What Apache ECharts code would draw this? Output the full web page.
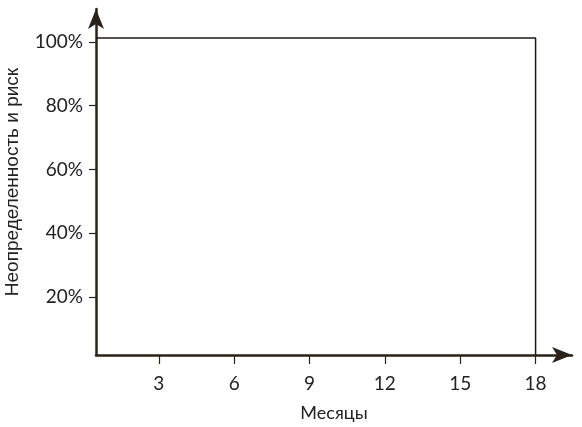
<!DOCTYPE html>
<html>
<head>
<meta charset="utf-8">
<script src="https://cdn.jsdelivr.net/npm/echarts@6/dist/echarts.min.js"></script>
<style>
  html, body { margin: 0; padding: 0; background: #fff; }
  #main { width: 582px; height: 427px; }
</style>
</head>
<body>
<div id="main"></div>
<script>
// деления осей
const monthTicks = [3, 6, 9, 12, 15, 18];
const riskTicks = [20, 40, 60, 80, 100];
// рамка: верхняя граница и правая граница на 18 месяце
const frameMonths = [0.5, 18, 18];
const frameRisk = [101.2, 101.2, 1.8];

const axisColor = '#2a2219';
const textColor = '#222';
const labelFont = 'Lato, "Open Sans", sans-serif';

var chart = echarts.init(document.getElementById('main'));

chart.setOption({
  animation: false,
  grid: { left: 96, right: 10, top: 9, bottom: 72, outerBoundsMode: 'none', containLabel: false },
  xAxis: {
    type: 'value',
    min: 0.5,
    max: 19.45,
    name: 'Месяцы',
    nameLocation: 'middle',
    nameGap: 49,
    nameTextStyle: { color: textColor, fontSize: 18, fontFamily: labelFont },
    axisLine: {
      show: true,
      symbol: ['none', 'arrow'],
      symbolSize: [12, 20],
      lineStyle: { color: axisColor, width: 2.5 }
    },
    axisTick: {
      show: true,
      inside: false,
      length: 9,
      customValues: monthTicks,
      lineStyle: { color: axisColor, width: 1.2 }
    },
    axisLabel: {
      customValues: monthTicks,
      margin: 19,
      color: textColor,
      fontSize: 19,
      fontFamily: labelFont
    },
    splitLine: { show: false }
  },
  yAxis: {
    type: 'value',
    min: 1.8,
    max: 110.3,
    name: 'Неопределенность и риск',
    nameLocation: 'middle',
    nameGap: 74,
    nameRotate: 90,
    nameTextStyle: { color: textColor, fontSize: 19, fontFamily: '"Liberation Sans", Arial, sans-serif' },
    axisLine: {
      show: true,
      symbol: ['none', 'arrow'],
      symbolSize: [12, 20],
      lineStyle: { color: axisColor, width: 2.5 }
    },
    axisTick: {
      show: true,
      inside: false,
      length: 7,
      customValues: riskTicks,
      lineStyle: { color: axisColor, width: 1.2 }
    },
    axisLabel: {
      customValues: riskTicks,
      margin: 13,
      color: textColor,
      fontSize: 19,
      fontFamily: labelFont,
      formatter: '{value}%'
    },
    splitLine: { show: false }
  },
  series: [{
    type: 'line',
    data: frameMonths.map((m, i) => [m, frameRisk[i]]),
    symbol: 'none',
    silent: true,
    clip: false,
    lineStyle: { color: '#1c1814', width: 1.5 }
  }]
});
</script>
</body>
</html>
